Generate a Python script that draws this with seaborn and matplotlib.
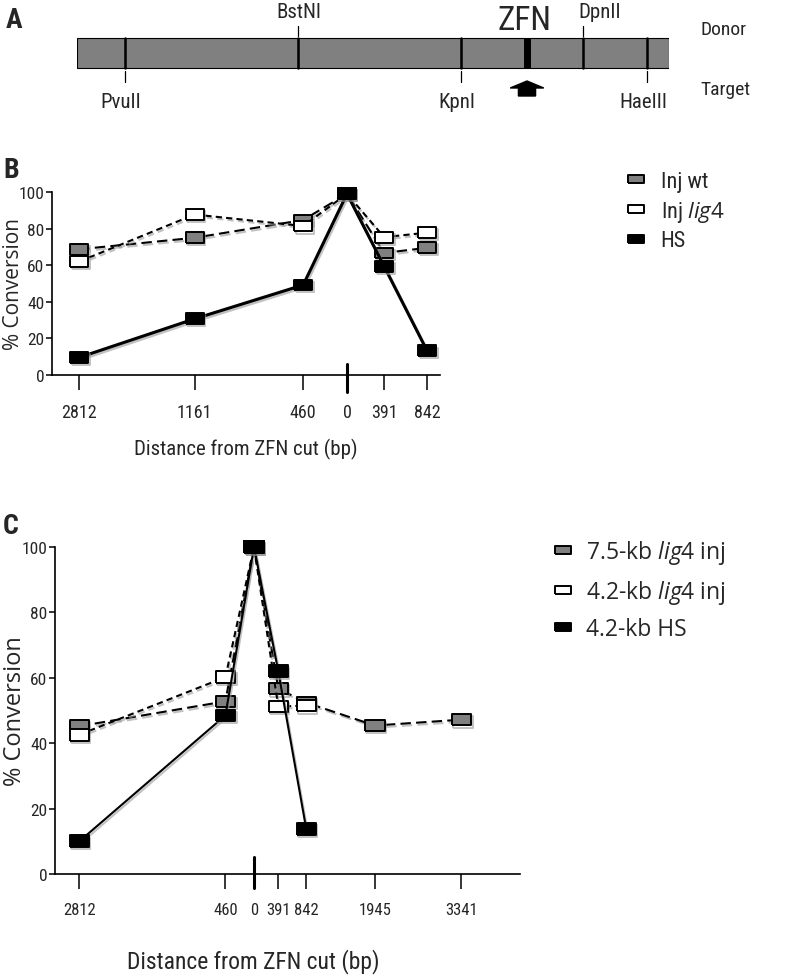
import matplotlib
matplotlib.use('Agg')
import matplotlib.pyplot as plt
import matplotlib.patheffects as pe
from matplotlib import font_manager
from matplotlib.lines import Line2D
from matplotlib.patches import FancyArrow
import pandas as pd
import seaborn as sns

# panel A: restriction map (bp, ZFN cut = 0)
map_start, map_end = -3150, 994
site_names = ['PvuII', 'BstNI', 'KpnI', 'DpnII', 'HaeIII']
site_pos = [-2812, -1600, -460, 391, 842]
site_side = ['Target', 'Donor', 'Target', 'Donor', 'Target']

# panel B
b_labels = ['2812', '1161', '460', '0', '391', '842']
b_pos = [-2812, -1600, -460, 0, 391, 842]
b_inj_wt = [68.7, 75.0, 84.7, 99, 66.7, 69.5]
b_inj_lig4 = [62.0, 87.7, 81.4, 99, 75.3, 77.8]
b_hs = [9.6, 30.7, 49.2, 99, 59.3, 13.2]

# panel C
c_labels = ['2812', '460', '0', '391', '842', '1945', '3341']
c_pos = [-2812, -460, 0, 391, 842, 1945, 3341]
c_75_lig4 = [45.2, 52.8, 100, 56.7, 52.4, 45.4, 47.2]
c_42_lig4 = [42.6, 60.2, 100, 51.2, 51.5]
c_42_hs = [10.0, 48.5, 100, 62.0, 13.7]

sns.set_style('white')
names = {f.name for f in font_manager.fontManager.ttflist}
narrow = 'Lato'
for cand in ['Liberation Sans Narrow', 'DejaVu Sans Condensed', 'Roboto Condensed',
             'Open Sans Condensed', 'Lato']:
    if cand in names:
        narrow = cand
        break
plt.rcParams['font.family'] = [narrow, 'DejaVu Sans']
plt.rcParams['mathtext.fontset'] = 'custom'
plt.rcParams['mathtext.it'] = 'Open Sans:italic'
plt.rcParams['mathtext.rm'] = 'Open Sans'

W, H = 796, 979
fig = plt.figure(figsize=(W / 100, H / 100), dpi=100)


def px_axes(x0, y0, x1, y1):
    return fig.add_axes([x0 / W, 1 - y1 / H, (x1 - x0) / W, (y1 - y0) / H])


# ---------------- A ----------------
ax_a = px_axes(77, 0, 669, 115)
ax_a.set_xlim(map_start, map_end)
ax_a.set_ylim(115, 0)
ax_a.axis('off')
ax_a.add_patch(plt.Rectangle((map_start, 39), map_end - map_start, 30,
                             facecolor='#808080', edgecolor='black', lw=0.8))
for name, pos, side in zip(site_names, site_pos, site_side):
    ax_a.plot([pos, pos], [39, 69], color='black', lw=1.8)
    if side == 'Donor':
        ax_a.plot([pos, pos], [27, 37], color='black', lw=0.9)
        if name == 'DpnII':
            ax_a.text(pos - 30, 12, name, ha='left', va='center', fontsize=15)
        else:
            ax_a.text(pos, 12, name, ha='center', va='center', fontsize=15)
    else:
        ax_a.plot([pos, pos], [72, 83], color='black', lw=0.9)
        ax_a.text(pos - 30, 103, name, ha='center', va='center', fontsize=15)
ax_a.plot([0, 0], [39, 69], color='black', lw=5, solid_capstyle='butt')
ax_a.text(-20, 21, 'ZFN', ha='center', va='center', fontsize=24)
ax_a.add_patch(FancyArrow(0, 97, 0, -15, width=120, head_width=235, head_length=7,
                          length_includes_head=True, color='black'))
fig.text(700 / W, 1 - 30 / H, 'Donor', ha='left', va='center', fontsize=14)
fig.text(700 / W, 1 - 90 / H, 'Target', ha='left', va='center', fontsize=14)
fig.text(6 / W, 1 - 20 / H, 'A', ha='left', va='center', fontsize=20, fontweight='bold')

rect = [(-1, -0.6), (1, -0.6), (1, 0.6), (-1, 0.6), (-1, -0.6)]
rect_leg = [(-1, -0.5), (1, -0.5), (1, 0.5), (-1, 0.5), (-1, -0.5)]
shadow = [pe.SimpleLineShadow(offset=(1, -1.5), shadow_color='#999999', alpha=0.6), pe.Normal()]


def series(ax, x, y, face, ls, lw, ms):
    df = pd.DataFrame({'x': x, 'y': y})
    sns.lineplot(data=df, x='x', y='y', ax=ax, color='black', linestyle=ls, lw=lw,
                 marker=rect, markersize=ms, markerfacecolor=face, markeredgecolor='black',
                 markeredgewidth=1.4, clip_on=False, sort=False, path_effects=shadow)


def style_axes(ax, pos, labels, xlim, zero_span, fs_y, x_lab, fs_tick):
    ax.set_xlim(*xlim)
    ax.set_ylim(0, 100)
    ax.set_yticks([0, 20, 40, 60, 80, 100])
    ax.set_xticks(pos)
    ax.set_xticklabels(labels)
    for s in ['top', 'right']:
        ax.spines[s].set_visible(False)
    for s in ['left', 'bottom']:
        ax.spines[s].set_color('black')
        ax.spines[s].set_linewidth(1.2)
    ax.tick_params(axis='x', direction='out', length=11, width=1.1, pad=9, labelsize=fs_tick,
                   bottom=True, color='black')
    ax.tick_params(axis='y', direction='out', length=4, width=1.1, pad=1.5, labelsize=12.5,
                   left=True, color='black')
    ax.xaxis.get_major_ticks()[labels.index('0')].tick1line.set_visible(False)
    ax.plot([0, 0], zero_span, color='black', lw=2.2, clip_on=False)
    ax.set_ylabel('% Conversion', family='Open Sans', fontsize=fs_y)
    ax.yaxis.set_label_coords(x_lab, 0.5)


# ---------------- B ----------------
ax_b = px_axes(52, 193, 440, 376)
series(ax_b, b_pos, b_inj_wt, '#808080', (0, (5, 2.5)), 1.5, 13)
series(ax_b, b_pos, b_inj_lig4, 'white', (0, (3, 2)), 1.5, 13)
series(ax_b, b_pos, b_hs, 'black', '-', 2.2, 13)
style_axes(ax_b, b_pos, b_labels, (-3098, 977), [-9.3, 6], 15, (24 - 52) / 388, 13)
ax_b.set_xlabel('Distance from ZFN cut (bp)', fontsize=15, labelpad=12)
fig.text(3 / W, 1 - 170 / H, 'B', ha='left', va='center', fontsize=20, fontweight='bold')
h_b = [Line2D([], [], ls='none', marker=rect_leg, markersize=12, markerfacecolor=c,
              markeredgecolor='black', markeredgewidth=1.4) for c in ['#808080', 'white', 'black']]
fig.legend(h_b, ['Inj wt', 'Inj $\\it{lig4}$', 'HS'], loc='upper left',
           bbox_to_anchor=(614 / W, 1 - 161 / H), frameon=False, fontsize=16,
           handlelength=1.0, handletextpad=0.6, labelspacing=0.3, borderpad=0)

# ---------------- C ----------------
ax_c = px_axes(55, 548, 520, 875)
series(ax_c, c_pos, c_75_lig4, '#808080', (0, (5, 2.5)), 1.5, 14)
series(ax_c, c_pos[:5], c_42_lig4, 'white', (0, (3, 2)), 1.5, 14)
series(ax_c, c_pos[:5], c_42_hs, 'black', '-', 1.5, 14)
style_axes(ax_c, c_pos, c_labels, (-3204, 4283), [-4.3, 5.2], 17, (27 - 55) / 465, 12)
ax_c.set_xlabel('Distance from ZFN cut (bp)', fontsize=17)
ax_c.xaxis.set_label_coords((253 - 55) / 465, -0.265)
ax_c.xaxis.label.set_va('center')
fig.text(3 / W, 1 - 526 / H, 'C', ha='left', va='center', fontsize=20, fontweight='bold')
h_c = [Line2D([], [], ls='none', marker=rect_leg, markersize=12, markerfacecolor=c,
              markeredgecolor='black', markeredgewidth=1.4) for c in ['#808080', 'white', 'black']]
fig.legend(h_c, ['7.5-kb $\\it{lig4}$ inj', '4.2-kb $\\it{lig4}$ inj', '4.2-kb HS'],
           loc='upper left', bbox_to_anchor=(540 / W, 1 - 528 / H), frameon=False,
           prop={'family': 'Open Sans', 'size': 16.5},
           handlelength=1.0, handletextpad=0.5, labelspacing=0.5, borderpad=0)

fig.savefig('out.png', dpi=100)
